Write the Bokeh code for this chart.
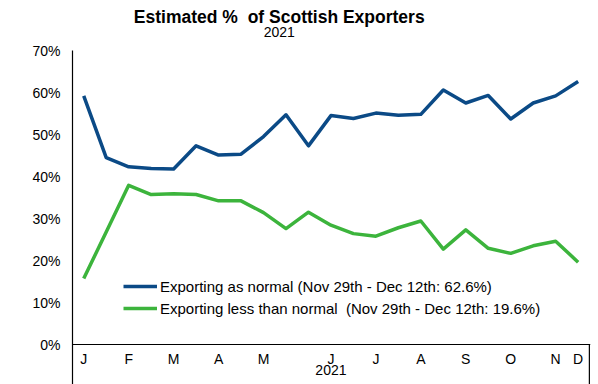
from bokeh.plotting import figure
from bokeh.models import (Range1d, FixedTicker, PrintfTickFormatter, Span, Legend,
                          LegendItem, Label, ColumnDataSource)
from bokeh.core.properties import value
from bokeh.embed import file_html
from bokeh.resources import INLINE

# ---- data ----
periods = list(range(23))
as_normal = [59.2, 44.5, 42.3, 41.9, 41.8, 47.3, 45.1, 45.3, 49.5, 54.7, 47.3, 54.5,
             53.8, 55.1, 54.6, 54.8, 60.6, 57.5, 59.3, 53.7, 57.5, 59.2, 62.6]
less_than_normal = [15.7, 26.8, 37.9, 35.7, 35.9, 35.7, 34.2, 34.2, 31.4, 27.6, 31.5, 28.4,
                    26.4, 25.8, 27.8, 29.4, 22.7, 27.3, 22.9, 21.7, 23.5, 24.6, 19.6]
month_pos = [0, 2, 4, 6, 8, 11, 13, 15, 17, 19, 21, 22]
month_labels = ["J", "F", "M", "A", "M", "J", "J", "A", "S", "O", "N", "D"]
year_label = "2021"
y_ticks = [0, 10, 20, 30, 40, 50, 60, 70]
series_names = ["Exporting as normal (Nov 29th - Dec 12th: 62.6%)",
                "Exporting less than normal \u00a0(Nov 29th - Dec 12th: 19.6%)"]
title_text = "Estimated %\u00a0 of Scottish Exporters"
subtitle_text = "2021"

BLUE = "#0B4A86"
GREEN = "#3CB43C"
FONT = "Liberation Sans"

PX = 70 / 294.0          # data units per pixel vertically
Y_MIN = -40 * PX         # room below the 0% line for the category box
Y_MAX = 70 + 50 * PX     # room above the 70% line for the titles

p = figure(width=598, height=384, output_backend="svg", toolbar_location=None,
           title=None, x_axis_location=None,
           x_range=Range1d(-0.5, 22.55), y_range=Range1d(Y_MIN, Y_MAX),
           min_border_left=72, min_border_right=8, min_border_top=0, min_border_bottom=0)
p.outline_line_color = None
p.grid.visible = False
p.background_fill_color = "white"
p.border_fill_color = "white"

yax = p.yaxis[0]
yax.bounds = (Y_MIN, 70)
yax.ticker = FixedTicker(ticks=y_ticks)
yax.formatter = PrintfTickFormatter(format="%d%%")
yax.major_tick_out = 0
yax.major_tick_in = 0
yax.minor_tick_out = 0
yax.minor_tick_in = 0
yax.major_label_standoff = 12
yax.axis_line_color = "black"
yax.axis_line_width = 1.2
yax.major_label_text_font = FONT
yax.major_label_text_font_size = "14px"
yax.major_label_text_color = "black"

# baseline and category box
p.add_layout(Span(location=0, dimension="width", line_color="black", line_width=1.2))
p.segment(x0=[22.5], y0=[Y_MIN], x1=[22.5], y1=[0], line_color="black", line_width=1.2)

src = ColumnDataSource(dict(x=periods, a=as_normal, b=less_than_normal))
r1 = p.line("x", "a", source=src, line_color=BLUE, line_width=3.5, line_join="round")
r2 = p.line("x", "b", source=src, line_color=GREEN, line_width=3.5, line_join="round")

# month labels
p.text(x=month_pos, y=[0] * len(month_pos), text=month_labels, y_offset=6,
       text_align="center", text_baseline="top", text_font=value(FONT),
       text_font_size="14px", text_color="black")
p.text(x=[11], y=[0], text=[year_label], y_offset=25, text_align="center",
       text_baseline="middle", text_font=value(FONT), text_font_size="14px",
       text_color="black")

legend = Legend(items=[LegendItem(label=series_names[0], renderers=[r1]),
                       LegendItem(label=series_names[1], renderers=[r2])],
                location=(51, 66), padding=0, margin=0, spacing=2,
                glyph_width=34, glyph_height=20, label_height=20, label_standoff=3,
                border_line_color=None, background_fill_alpha=0,
                label_text_font=FONT, label_text_font_size="15px", label_text_color="black")
p.add_layout(legend)

p.add_layout(Label(x=8.7, y=Y_MAX - 16.5 * PX, text=title_text, text_align="center",
                   text_baseline="middle", text_font=FONT, text_font_size="17.5px",
                   text_font_style="bold", text_color="black"))
p.add_layout(Label(x=8.7, y=Y_MAX - 31 * PX, text=subtitle_text, text_align="center",
                   text_baseline="middle", text_font=FONT, text_font_size="14px",
                   text_color="black"))

open("out.html", "w").write(file_html(p, INLINE))
